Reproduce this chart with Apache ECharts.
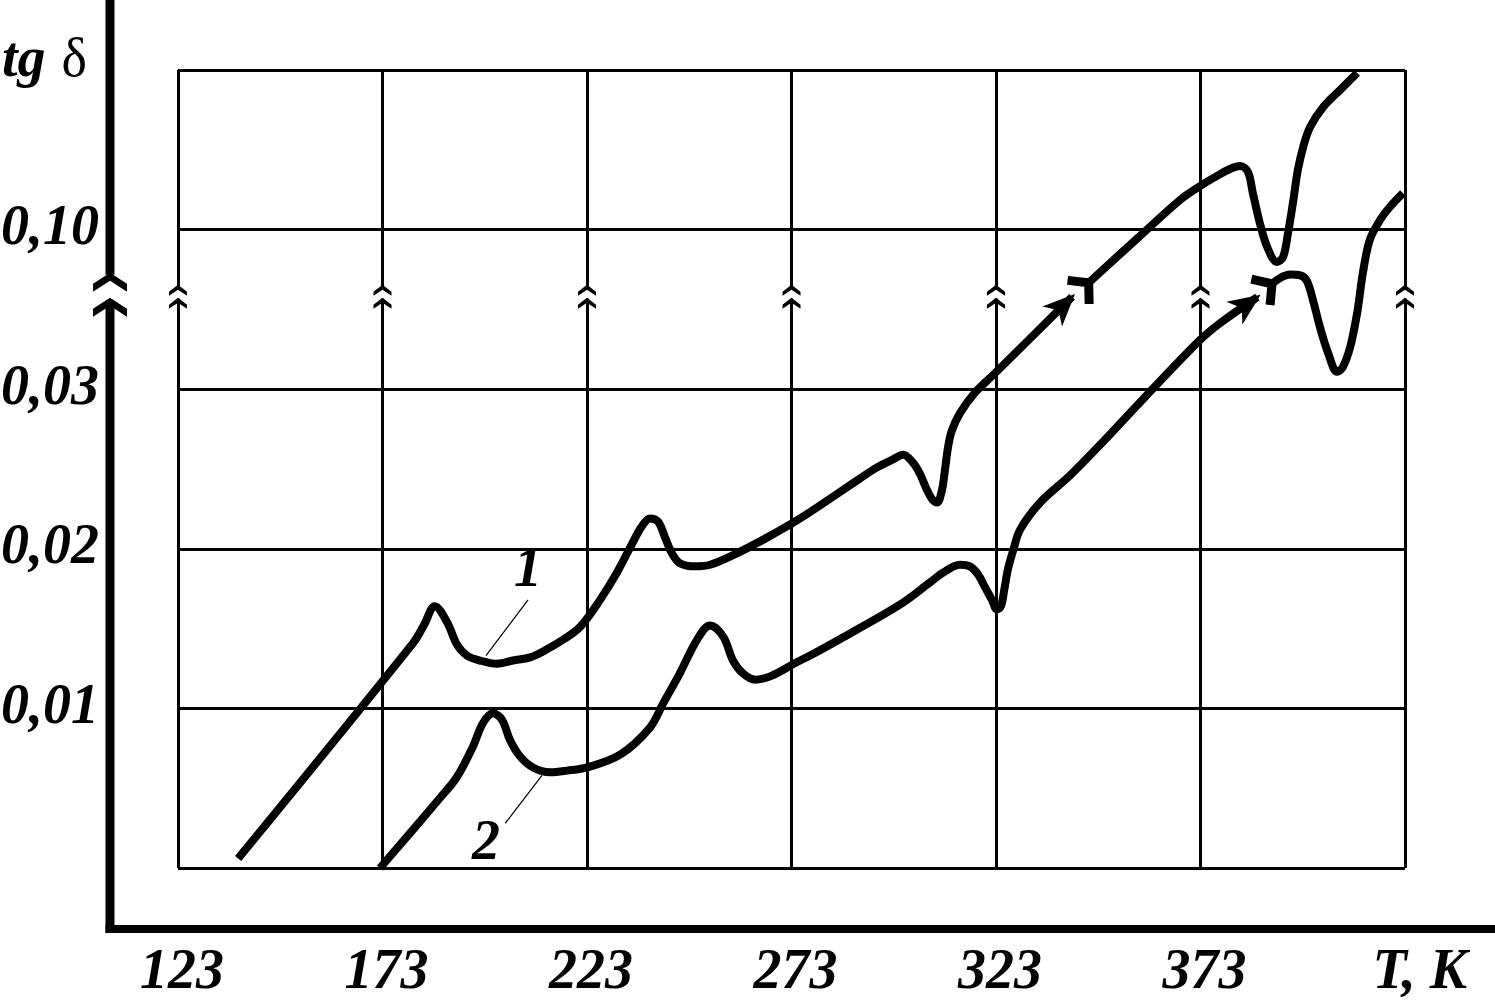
<!DOCTYPE html>
<html><head><meta charset="utf-8">
<script src="https://cdn.jsdelivr.net/npm/echarts@6/dist/echarts.min.js"></script>
<style>html,body{margin:0;padding:0;background:#fff}#c{width:1495px;height:1003px}</style>
</head><body><div id="c"></div>
<script>
// ---- data (T in K, tg δ values) ----
const T0 = 123;
const xTickLabels = ['123', '173', '223', '273', '323', '373', ''];
const yTickLabels = ['', '0,01', '0,02', '0,03', '0,10', ''];

const curve1LowT  = [137.7,180.5,183.1,185.8,188.8,191.2,193.7,196.8,201.0,204.9,209.1,213.2,217.1,221.3,226.2,230.3,234.2,236.4,238.4,240.4,242.1,243.8,245.7,249.4,253.1,258.7,267.0,275.1,289.7,293.9,297.8,300.3,302.7,304.4,306.1,307.4,308.6,309.8,310.5,311.3,312.2,314.2,317.9,322.8,341.6];
const curve1LowTg = [0.0006,0.0141,0.0152,0.0164,0.0154,0.0140,0.0133,0.0130,0.0128,0.0130,0.0132,0.0137,0.0143,0.0151,0.0168,0.0185,0.0204,0.0214,0.0219,0.0217,0.0207,0.0197,0.0191,0.0189,0.0190,0.0196,0.0207,0.0219,0.0244,0.0251,0.0256,0.0259,0.0254,0.0247,0.0237,0.0231,0.0229,0.0237,0.0249,0.0264,0.0274,0.0285,0.0298,0.0371,0.0705];
const curve1HighT  = [345.3,358.2,368.0,372.9,377.0,380.2,382.7,384.6,385.8,387.5,389.3,391.7,393.2,394.4,395.6,396.8,398.1,399.8,403.0,407.1,411.3];
const curve1HighTg = [0.0761,0.0972,0.1130,0.1191,0.1235,0.1266,0.1279,0.1253,0.1160,0.1029,0.0924,0.0858,0.0880,0.0985,0.1117,0.1261,0.1362,0.1450,0.1538,0.1612,0.1687];

const curve2LowT  = [172.4,187.1,191.2,195.1,197.6,200.0,202.2,204.2,206.6,209.8,214.0,218.1,223.0,231.1,238.4,241.6,245.7,249.9,253.1,256.3,258.7,261.1,264.1,275.1,287.3,299.5,306.9,310.0,314.2,316.6,318.6,320.3,322.0,323.2,324.2,325.0,325.9,327.2,328.9,333.8,341.1,348.4,359.4,372.9,377.8,386.9];
const curve2LowTg = [0.0,0.0044,0.0057,0.0076,0.0091,0.0097,0.0093,0.0080,0.0070,0.0063,0.0060,0.0061,0.0063,0.0071,0.0088,0.0103,0.0122,0.0143,0.0152,0.0145,0.0130,0.0122,0.0118,0.0130,0.0147,0.0165,0.0179,0.0185,0.0190,0.0189,0.0184,0.0176,0.0168,0.0162,0.0164,0.0174,0.0187,0.0199,0.0212,0.0229,0.0246,0.0265,0.0295,0.0516,0.0590,0.0704];
const curve2HighT  = [390.1,392.5,394.9,397.4,399.0,400.5,402.2,404.2,406.4,407.8,409.6,411.3,412.7,414.4,416.9,419.3,422.5];
const curve2HighTg = [0.0757,0.0788,0.0803,0.0799,0.0775,0.0691,0.0573,0.0459,0.0376,0.0397,0.0485,0.0634,0.0810,0.0955,0.1042,0.1099,0.1160];

// curve annotations "1" and "2"
const annoLabels = ['1', '2'];
const annoTextT  = [208.6, 198.3];
const annoTextTg = [0.0186, 0.0015];
const annoFromT  = [208.6, 203.0];
const annoFromTg = [0.0168, 0.0028];
const annoToT    = [198.3, 212.0];
const annoToTg   = [0.0133, 0.0058];

// broken tg δ axis: 0..0.03 at 0.01 per division, then 0.07 per division
function toAxis(v) { return v <= 0.03 ? v / 0.01 : 3 + (v - 0.03) / 0.07; }
const BREAK_U = 3.58;

const FONT = '"Liberation Serif", "Times New Roman", serif';
const lblStyle = { fontFamily: FONT, fontSize: 56, fontWeight: 'bold', fontStyle: 'italic', color: '#000' };

function seg(Ts, Tgs) { return Ts.map((t, i) => [t - T0, toAxis(Tgs[i])]); }
const lineStyle = { color: '#000', width: 8 };
function lineSeries(name, Ts, Tgs) {
  return { name, type: 'line', data: seg(Ts, Tgs), smooth: 0.35, symbol: 'none',
    lineStyle, z: 5, silent: true, emphasis: { disabled: true } };
}

const chart = echarts.init(document.getElementById('c'), null, { renderer: 'canvas' });
chart.setOption({
  animation: false,
  backgroundColor: '#fff',
  grid: { left: 178, right: 90, top: 70, bottom: 135, containLabel: false, outerBoundsMode: 'none' },
  xAxis: {
    type: 'value', min: 0, max: 300, interval: 50,
    axisLine: { show: false }, axisTick: { show: false },
    splitLine: { show: true, lineStyle: { color: '#000', width: 3 } },
    axisLabel: Object.assign({}, lblStyle, { margin: 78, padding: [0, 0, 0, 8], formatter: v => xTickLabels[Math.round(v / 50)] || '' })
  },
  yAxis: {
    type: 'value', min: 0, max: 5, interval: 1,
    axisLine: { show: false }, axisTick: { show: false },
    splitLine: { show: true, lineStyle: { color: '#000', width: 3 } },
    axisLabel: Object.assign({}, lblStyle, { margin: 79, formatter: v => yTickLabels[Math.round(v)] || '' })
  },
  series: [
    lineSeries('1', curve1LowT, curve1LowTg),
    lineSeries('1', curve1HighT, curve1HighTg),
    lineSeries('2', curve2LowT, curve2LowTg),
    lineSeries('2', curve2HighT, curve2HighTg)
  ]
});

// ---- decorations anchored to the axes ----
const P = (t, v) => chart.convertToPixel({ gridIndex: 0 }, [t - T0, toAxis(v)]);
const PU = (x, u) => chart.convertToPixel({ gridIndex: 0 }, [x, u]);
const g = [];
const yb = PU(0, BREAK_U)[1];
const left = PU(0, 0)[0], bottom = PU(0, 0)[1];
const axX = left - 68, axY = bottom + 61;

// outer thick axes
g.push({ type: 'rect', shape: { x: axX - 4.5, y: 0, width: 9, height: yb - 22 }, style: { fill: '#000' }, z: 100 });
g.push({ type: 'rect', shape: { x: axX - 4.5, y: yb + 6, width: 9, height: axY + 4 - (yb + 6) }, style: { fill: '#000' }, z: 100 });
g.push({ type: 'rect', shape: { x: axX - 4.5, y: axY - 4, width: 1495 - axX + 4.5, height: 8 }, style: { fill: '#000' }, z: 100 });
const bigChev = [[0, 0], [17, 11], [17, 19], [0, 8], [-17, 19], [-17, 11]];
[yb - 24, yb + 1].forEach(y0 => g.push({ type: 'polygon', x: axX, y: y0, shape: { points: bigChev }, style: { fill: '#000' }, z: 101 }));

// break marks on vertical grid lines
const smallChev = [[0, 0], [9, 7], [9, 11], [0, 5], [-9, 11], [-9, 7]];
for (let i = 0; i <= 6; i++) {
  const x = PU(i * 50, 0)[0];
  g.push({ type: 'rect', shape: { x: x - 3, y: yb - 8, width: 6, height: 10 }, style: { fill: '#fff' }, z: 100 });
  [yb - 12, yb + 1].forEach(y0 => g.push({ type: 'polygon', x: x, y: y0, shape: { points: smallChev }, style: { fill: '#000' }, z: 101 }));
}

// arrows at the end of the lower segments and forks at start of upper segments
function addArrow(Ts, Tgs) {
  const n = Ts.length;
  const tip = P(Ts[n - 1], Tgs[n - 1]), prev = P(Ts[n - 2], Tgs[n - 2]);
  const ang = Math.atan2(tip[1] - prev[1], tip[0] - prev[0]);
  g.push({ type: 'polygon', x: tip[0], y: tip[1], rotation: -ang,
    shape: { points: [[4, 0], [-28, -14], [-19, 0], [-28, 14]] }, style: { fill: '#000' }, z: 110 });
}
function addFork(Ts, Tgs) {
  const j = P(Ts[0], Tgs[0]), nx = P(Ts[1], Tgs[1]);
  const ang = Math.atan2(nx[1] - j[1], nx[0] - j[0]);
  g.push({ type: 'polyline', x: j[0], y: j[1], rotation: -ang,
    shape: { points: [[-12, -16], [2, 0], [-12, 16]] }, style: { stroke: '#000', lineWidth: 9, fill: null }, z: 110 });
}
addArrow(curve1LowT, curve1LowTg); addFork(curve1HighT, curve1HighTg);
addArrow(curve2LowT, curve2LowTg); addFork(curve2HighT, curve2HighTg);

// curve labels with leader lines
annoLabels.forEach((s, i) => {
  const p = P(annoTextT[i], annoTextTg[i]);
  g.push({ type: 'text', x: p[0], y: p[1], z: 110,
    style: { text: s, fontFamily: FONT, fontSize: 56, fontWeight: 'bold', fontStyle: 'italic', fill: '#000', align: 'center', verticalAlign: 'middle' } });
  const a = P(annoFromT[i], annoFromTg[i]), b = P(annoToT[i], annoToTg[i]);
  g.push({ type: 'line', shape: { x1: a[0], y1: a[1], x2: b[0], y2: b[1] }, style: { stroke: '#000', lineWidth: 1.2 }, z: 110 });
});

// axis titles
g.push({ type: 'text', x: 2, y: 62, z: 110, style: {
  text: '{a|tg}{b|δ}', verticalAlign: 'middle', align: 'left',
  rich: { a: { fontFamily: FONT, fontSize: 56, fontWeight: 'bold', fontStyle: 'italic', fill: '#000' },
          b: { fontFamily: FONT, fontSize: 54, fill: '#000', padding: [0, 0, 0, 16] } } } });
g.push({ type: 'text', x: 1467, y: 974, z: 110, style: {
  text: 'T, K', fontFamily: FONT, fontSize: 56, fontWeight: 'bold', fontStyle: 'italic', fill: '#000', align: 'right', verticalAlign: 'middle' } });

chart.setOption({ graphic: g });
</script></body></html>
